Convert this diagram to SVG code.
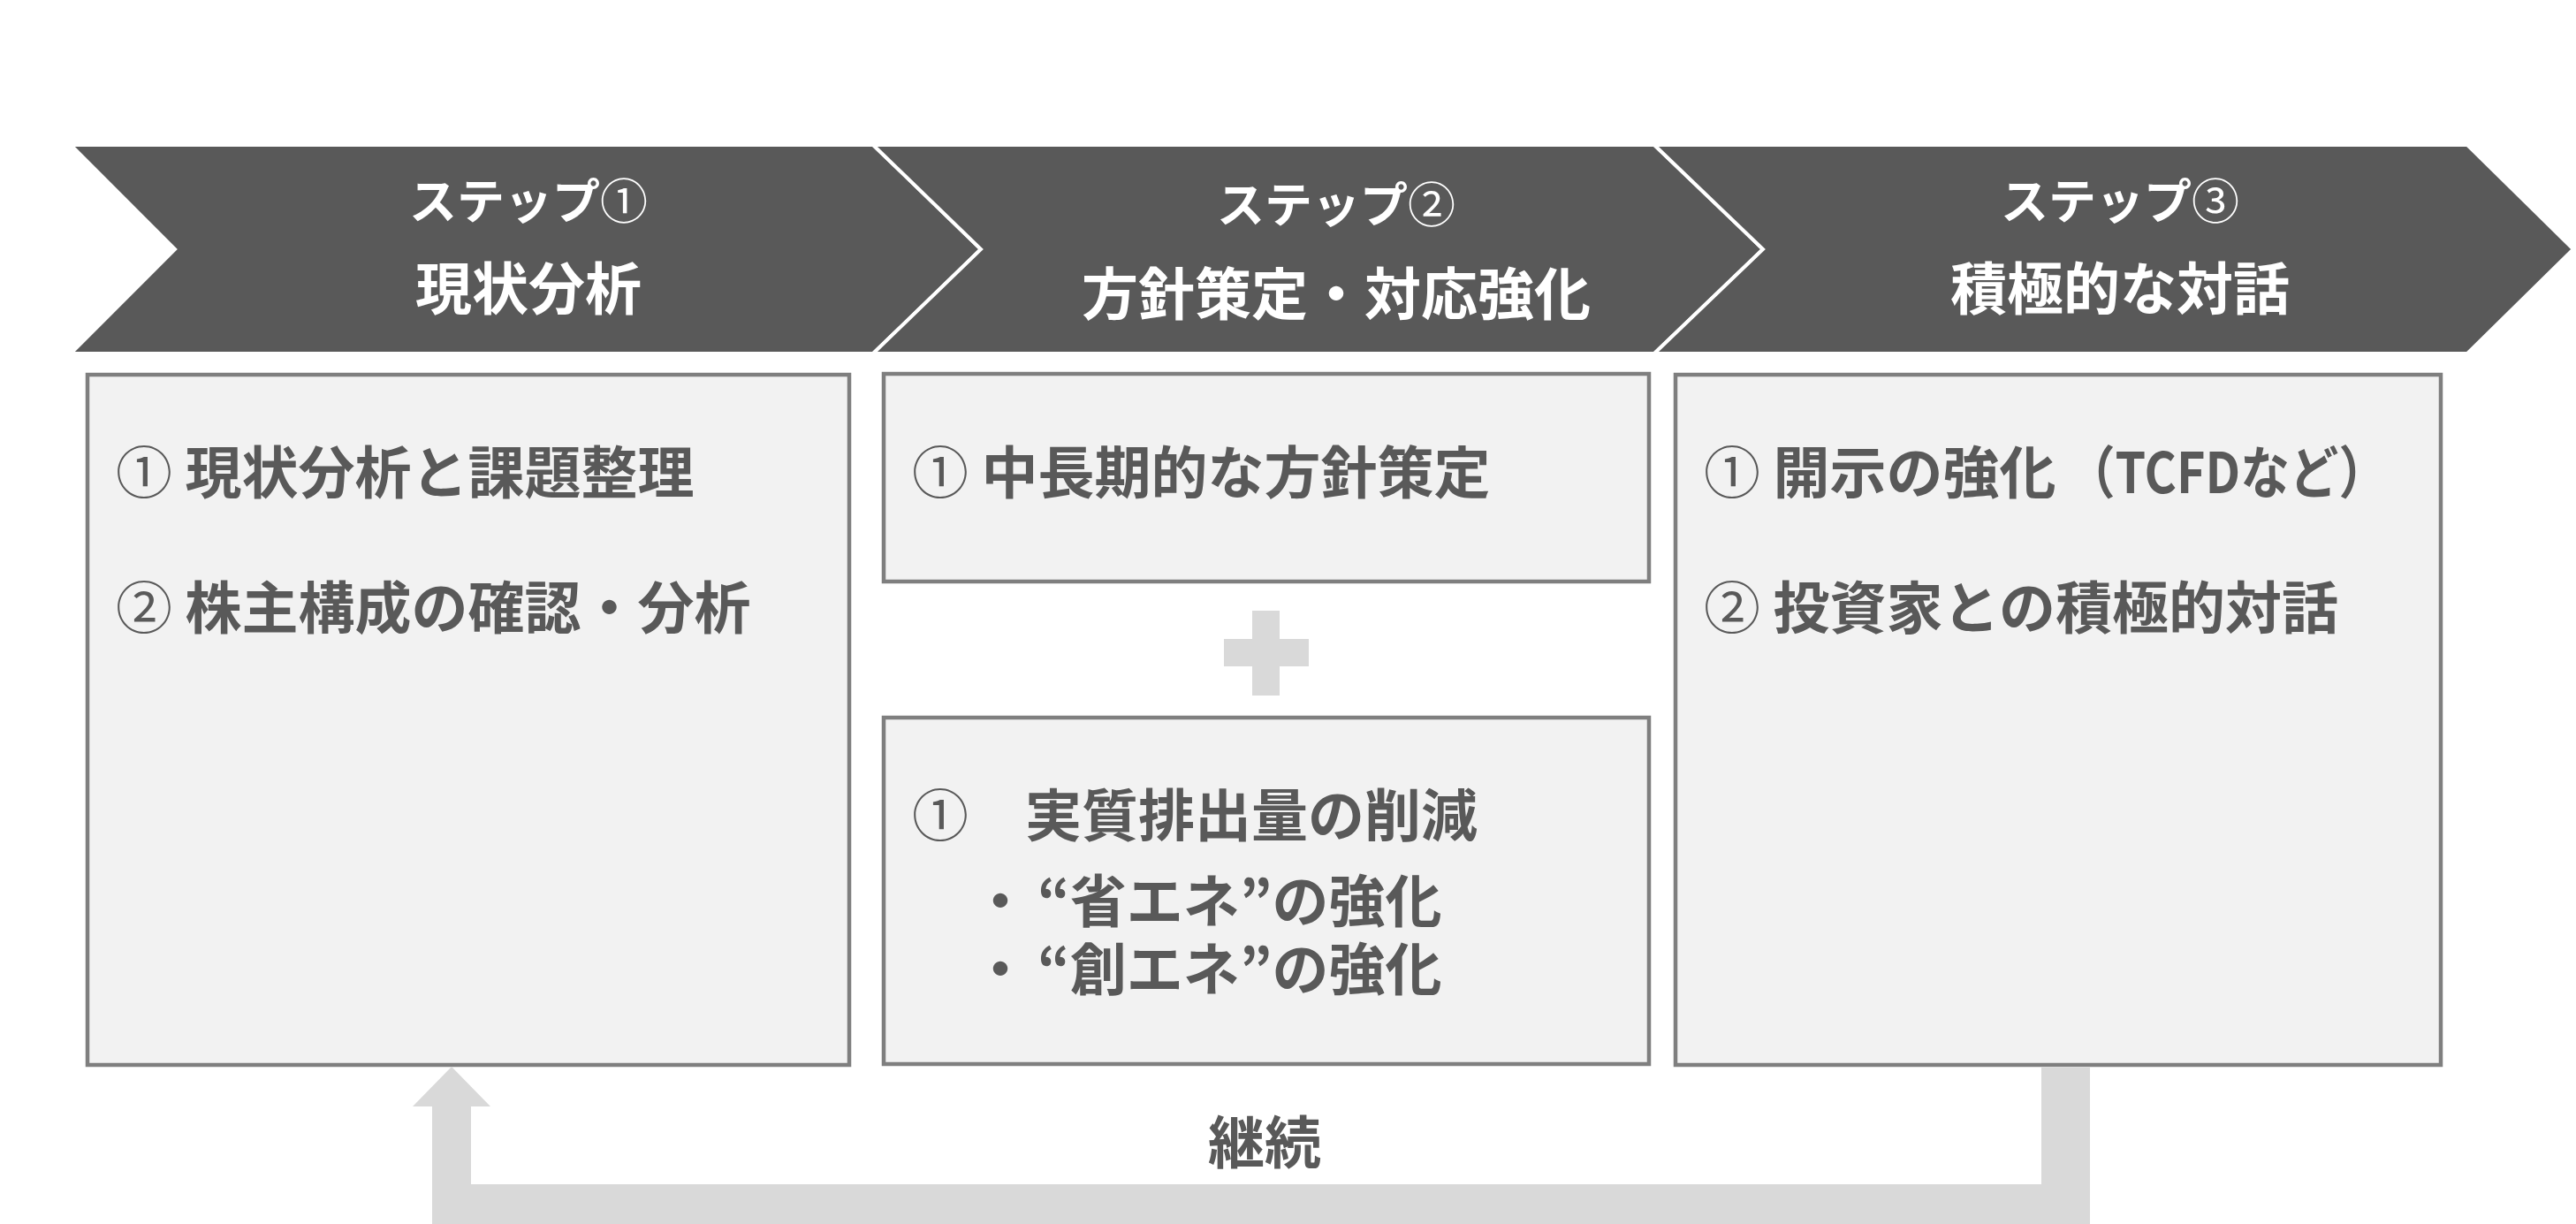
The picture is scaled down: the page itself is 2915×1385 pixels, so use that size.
<svg xmlns="http://www.w3.org/2000/svg" width="2915" height="1385" viewBox="0 0 2915 1385">
<style>
.chev{fill:#595959;stroke:#ffffff;stroke-width:4;stroke-linejoin:miter}
.box{fill:#f2f2f2;stroke:#7f7f7f;stroke-width:4.5}
.t1{font-family:"Noto Sans CJK JP","Noto Sans",sans-serif;font-weight:bold;font-size:54px;fill:#ffffff;text-anchor:middle}
.t2{font-family:"Noto Sans CJK JP","Noto Sans",sans-serif;font-weight:bold;font-size:64px;fill:#ffffff;text-anchor:middle}
.bt{font-family:"Noto Sans CJK JP","Noto Sans",sans-serif;font-weight:bold;font-size:64px;fill:#595959}
.n{font-weight:normal}
.conn{fill:#d9d9d9}
</style>
<rect width="2915" height="1385" fill="#ffffff"/>
<g id="step1">
<polygon class="chev" points="80,164 988,164 1110,282 988,400 80,400 198,282"/>
<text class="t1" x="598" y="248">ステップ<tspan class="n">①</tspan></text>
<text class="t2" x="598" y="350">現状分析</text>
</g>
<g id="step2">
<polygon class="chev" points="988,164 1872,164 1995,282 1872,400 988,400 1110,282"/>
<text class="t1" x="1512" y="252">ステップ<tspan class="n">②</tspan></text>
<text class="t2" x="1512" y="356">方針策定・対応強化</text>
</g>
<g id="step3">
<polygon class="chev" points="1872,164 2792,164 2912,282 2792,400 1872,400 1995,282"/>
<text class="t1" x="2399" y="248">ステップ<tspan class="n">③</tspan></text>
<text class="t2" x="2399" y="350">積極的な対話</text>
</g>
<g id="box1">
<rect class="box" x="99" y="424" width="862" height="781"/>
<text class="bt" x="131" y="558"><tspan class="n">①</tspan> 現状分析と課題整理</text>
<text class="bt" x="131" y="711"><tspan class="n">②</tspan> 株主構成の確認・分析</text>
</g>
<g id="box2a">
<rect class="box" x="1000" y="423" width="866" height="235"/>
<text class="bt" x="1032" y="558"><tspan class="n">①</tspan> 中長期的な方針策定</text>
</g>
<g id="plus">
<rect class="conn" x="1417" y="691" width="31" height="96"/>
<rect class="conn" x="1385" y="723" width="96" height="31"/>
</g>
<g id="box2b">
<rect class="box" x="1000" y="812" width="866" height="392"/>
<text class="bt" x="1032" y="946"><tspan class="n">①</tspan>　実質排出量の削減</text>
<text class="bt" x="1100" y="1043">・<tspan x="1174">“省エネ”の強化</tspan></text>
<text class="bt" x="1100" y="1120">・<tspan x="1174">“創エネ”の強化</tspan></text>
</g>
<g id="box3">
<rect class="box" x="1896" y="424" width="866" height="781"/>
<text class="bt" x="1928" y="558"><tspan class="n">①</tspan> 開示の強化<tspan x="2338" textLength="364" lengthAdjust="spacingAndGlyphs">（TCFDなど）</tspan></text>
<text class="bt" x="1928" y="711"><tspan class="n">②</tspan> 投資家との積極的対話</text>
</g>
<g id="connectors">
<polygon class="conn" points="2310,1208 2365,1208 2365,1400 489,1400 489,1252 467,1252 511,1207 555,1252 533,1252 533,1340 2310,1340"/>
<text class="bt" x="1431" y="1316" text-anchor="middle">継続</text>
</g>
</svg>
